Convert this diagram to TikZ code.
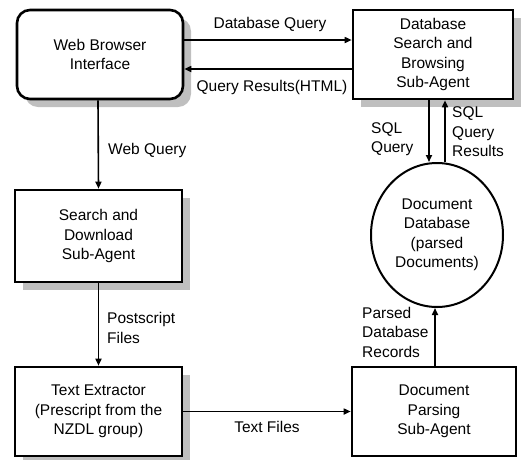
\documentclass[tikz,border=0pt]{standalone}
\usepackage{fontspec}
\setmainfont{Liberation Sans}
\usetikzlibrary{shapes.geometric,shadows,arrows.meta}
\begin{document}
\begin{tikzpicture}[x=1pt,y=-1pt,
  font=\fontsize{15.5}{19.5}\selectfont,
  shade box/.style={general shadow={fill=gray!50,shadow xshift=8pt,shadow yshift=-8pt}},
  block/.style={draw,line width=2.6pt,fill=white,align=center,inner sep=0pt},
  arrow/.style={line width=1.6pt,-{Triangle[length=7pt,width=6pt]}},
  lbl/.style={align=left,anchor=west,inner sep=0pt}]
\useasboundingbox (0,0) rectangle (531,459);

% agents and components
\node[block,shade box,rounded corners=13pt,minimum width=166pt,minimum height=89pt] (web) at (100,54.5) {Web Browser\\Interface};
\node[block,shade box,minimum width=160pt,minimum height=89pt] (db) at (433,54.5) {Database\\Search and\\Browsing\\Sub-Agent};
\node[block,shade box,minimum width=167pt,minimum height=92pt] (sd) at (98.5,236) {Search and\\Download\\Sub-Agent};
\node[block,shade box,minimum width=167pt,minimum height=89pt] (te) at (98.5,411.5) {Text Extractor\\(Prescript from the\\NZDL group)};
\node[block,minimum width=164pt,minimum height=89pt] (dp) at (434,411.5) {Document\\Parsing\\Sub-Agent};
\node[draw,ellipse,line width=2pt,minimum width=132pt,minimum height=144pt,inner sep=0pt,align=center] (doc) at (437,235) {Document\\Database\\(parsed\\Documents)};

% data flows
\draw[arrow] ([yshift=14.5pt]web.east) -- ([yshift=14.5pt]db.west);
\draw[arrow] ([yshift=-14.5pt]db.west) -- ([yshift=-14.5pt]web.east);
\draw[arrow] ([xshift=-2pt]web.south) -- (sd.north);
\draw[arrow] ([xshift=-4pt]db.south) -- ([xshift=-8pt]doc.north);
\draw[arrow] ([xshift=8pt]doc.north) -- ([xshift=12pt]db.south);
\draw[arrow] (sd.south) -- (te.north);
\draw[arrow] (te.east) -- (dp.west);
\draw[arrow] ([xshift=1pt]dp.north) -- ([xshift=-2pt]doc.south);

% flow labels
\node[inner sep=0pt] (l1) at (270,24) {Database Query};
\node[inner sep=0pt] (l2) at (272,87) {Query Results(HTML)};
\node[lbl] (l3) at (108,150) {Web Query};
\node[lbl] (l4) at (371,139) {SQL\\Query};
\node[lbl] (l5) at (452,132) {SQL\\Query\\Results};
\node[lbl] (l6) at (107,328) {Postscript\\Files};
\node[lbl] (l7) at (362,332) {Parsed\\Database\\Records};
\node[inner sep=0pt] (l8) at (267,427) {Text Files};
\end{tikzpicture}
\end{document}
